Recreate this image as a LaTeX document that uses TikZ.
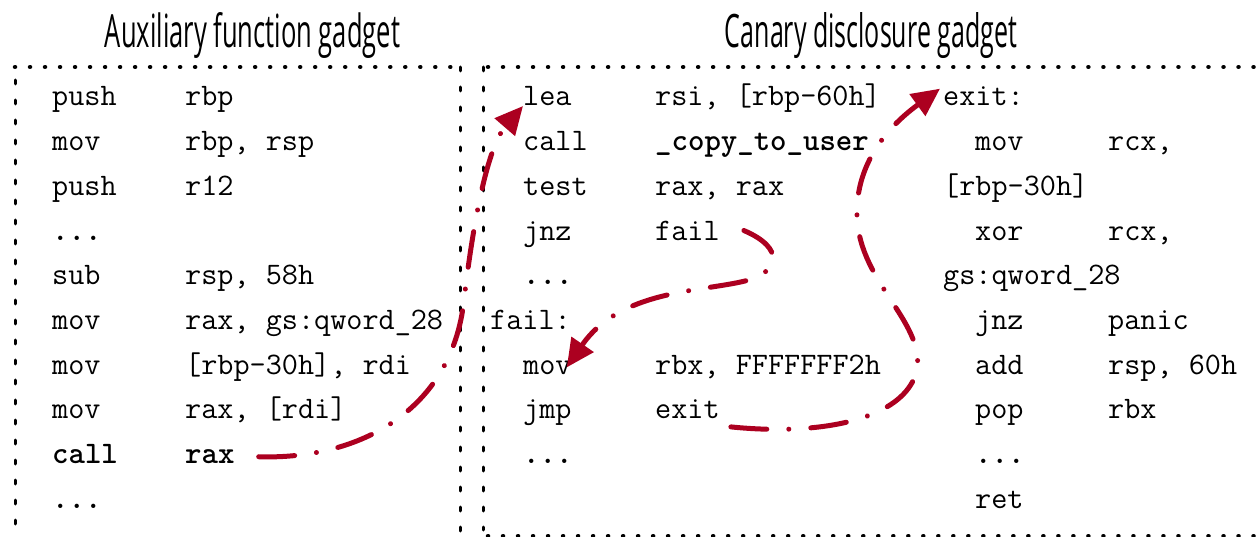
\documentclass[tikz,border=0pt]{standalone}
\usepackage{fontspec}
\usepackage{graphicx}
\usetikzlibrary{arrows.meta}
\newfontfamily\headfont{Open Sans}
\definecolor{flowred}{RGB}{172,0,32}
\begin{document}
\begin{tikzpicture}[x=1pt,y=-1pt,
  code/.style={anchor=base west, inner sep=0pt, font=\fontsize{31.3}{36}\selectfont\ttfamily},
  codeb/.style={code, font=\fontsize{31.3}{36}\selectfont\ttfamily\bfseries},
  head/.style={anchor=base, inner sep=0pt},
  hdots/.style={line width=4.5pt, line cap=round, dash pattern=on 0.01pt off 15pt},
  vdots/.style={line width=3pt, line cap=round, dash pattern=on 4pt off 16pt},
  flow/.style={draw=flowred, line width=5pt, line cap=round,
    dash pattern=on 36pt off 22pt on 0.01pt off 22pt,
    -{Triangle[length=28pt,width=26pt]}}
]
\useasboundingbox (0,0) rectangle (1259,537);

% headings
\node[head] (auxtitle) at (252.5,48) {\resizebox{295pt}{35pt}{\headfont Auxiliary function gadget}};
\node[head] (cantitle) at (871,48) {\resizebox{292pt}{35pt}{\headfont Canary disclosure gadget}};

% dotted frames
\draw[hdots] (15,67) -- (455,67);
\draw[vdots] (15,80) -- (15,537);
\draw[vdots] (460,67) -- (460,537);
\draw[hdots] (488,67) -- (1259,67);
\draw[vdots] (483,67) -- (483,530);
\draw[hdots] (488,536) -- (1259,536);

% auxiliary function
\node[code] (a0) at (52,106) {push};   \node[code] (a0r) at (185,106) {rbp};
\node[code] (a1) at (52,150.7) {mov};  \node[code] (a1r) at (185,150.7) {rbp, rsp};
\node[code] (a2) at (52,195.4) {push}; \node[code] (a2r) at (185,195.4) {r12};
\node[codeb] (a3) at (52,240.1) {...};
\node[code] (a4) at (52,284.8) {sub};  \node[code] (a4r) at (185,284.8) {rsp, 58h};
\node[code] (a5) at (52,329.5) {mov};  \node[code] (a5r) at (185,329.5) {rax, gs:qword\_28};
\node[code] (a6) at (52,374.2) {mov};  \node[code] (a6r) at (185,374.2) {[rbp-30h], rdi};
\node[code] (a7) at (52,418.9) {mov};  \node[code] (a7r) at (185,418.9) {rax, [rdi]};
\node[codeb] (call) at (52,463.6) {call}; \node[codeb] (rax) at (185,463.6) {rax};
\node[codeb] (a9) at (52,508.3) {...};

% canary disclosure
\node[code] (lea) at (523,106) {lea};    \node[code] (c0r) at (655,106) {rsi, [rbp-60h]};
\node[code] (c1) at (523,150.7) {call};  \node[codeb] (copy) at (655,150.7) {\_copy\_to\_user};
\node[code] (c2) at (523,195.4) {test};  \node[code] (c2r) at (655,195.4) {rax, rax};
\node[code] (c3) at (523,240.1) {jnz};   \node[code] (fail) at (655,240.1) {fail};
\node[codeb] (c4) at (523,284.8) {...};
\node[code] (faillbl) at (490,329.5) {fail:};
\node[code] (movr) at (523,374.2) {mov};  \node[code] (c6r) at (655,374.2) {rbx, FFFFFFF2h};
\node[code] (c7) at (523,418.9) {jmp};   \node[code] (exitj) at (655,418.9) {exit};
\node[codeb] (c8) at (523,463.6) {...};

\node[code] (exitl) at (943,106) {exit:};
\node[code] (e1) at (975,150.7) {mov};  \node[code] (e1r) at (1108,150.7) {rcx,};
\node[code] (e2) at (943,195.4) {[rbp-30h]};
\node[code] (e3) at (975,240.1) {xor};  \node[code] (e3r) at (1108,240.1) {rcx,};
\node[code] (e4) at (943,284.8) {gs:qword\_28};
\node[code] (e5) at (975,329.5) {jnz};  \node[code] (e5r) at (1108,329.5) {panic};
\node[code] (e6) at (975,374.2) {add};  \node[code] (e6r) at (1108,374.2) {rsp, 60h};
\node[code] (e7) at (975,418.9) {pop};  \node[code] (e7r) at (1108,418.9) {rbx};
\node[codeb] (e8) at (975,463.6) {...};
\node[code] (e9) at (975,508.3) {ret};

% control flow
\draw[flow] ([xshift=24pt]rax.east) .. controls (360,460) and (452,410) .. (464,300)
  .. controls (471,240) and (485,150) .. (lea.base west);
\draw[flow] ([xshift=24pt]fail.east) .. controls (785,248) and (780,272) .. (745,281)
  .. controls (700,292) and (620,290) .. ([xshift=-5pt]movr.east);
\draw[flow] ([xshift=11pt,yshift=-8pt]exitj.base east) .. controls (820,436) and (905,420) .. (917,370)
  .. controls (925,320) and (855,280) .. (857,210)
  .. controls (858,160) and (890,125) .. ([xshift=-3pt,yshift=8pt]exitl.west);
\end{tikzpicture}
\end{document}
